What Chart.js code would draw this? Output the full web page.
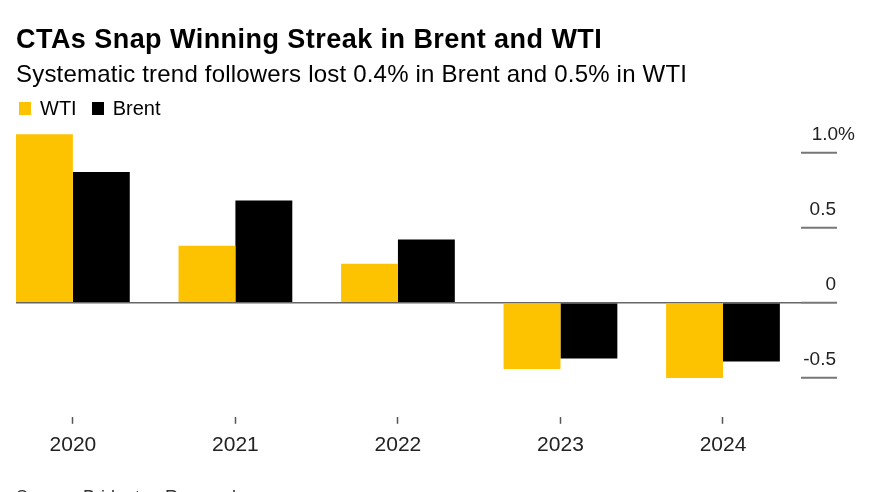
<!DOCTYPE html>
<html>
<head>
<meta charset="utf-8">
<script src="https://cdn.jsdelivr.net/npm/chart.js@4.4.1/dist/chart.umd.min.js"></script>
<style>
  body { margin: 0; background: #fff; }
  #wrap { position: relative; width: 870px; height: 492px; overflow: hidden; font-family: 'Liberation Sans', Arial, sans-serif; color: #000; }
  #plot { position: absolute; left: 0; top: 0; width: 870px; height: 492px; }
  .title { position: absolute; left: 16px; top: 23px; font-size: 27px; line-height: 32px; font-weight: bold; letter-spacing: 0.45px; white-space: nowrap; }
  .sub { position: absolute; left: 16px; top: 60px; font-size: 24px; line-height: 28px; letter-spacing: 0.2px; white-space: nowrap; }
  .legend { position: absolute; left: 19px; top: 97px; font-size: 20px; line-height: 22px; white-space: nowrap; }
  .legend span.sw { display: inline-block; width: 12px; height: 13px; margin-right: 9px; vertical-align: 0; }
  .legend span.item { margin-right: 15px; }
  .source { position: absolute; left: 16px; top: 487px; font-size: 18px; line-height: 20px; color: #333; white-space: nowrap; }
</style>
</head>
<body>
<div id="wrap">
  <div id="plot"><canvas id="chart1"></canvas></div>
  <div class="title">CTAs Snap Winning Streak in Brent and WTI</div>
  <div class="sub">Systematic trend followers lost 0.4% in Brent and 0.5% in WTI</div>
  <div class="legend"><span class="item"><span class="sw" style="background:#FEC300"></span>WTI</span><span class="item"><span class="sw" style="background:#000"></span>Brent</span></div>
  <div class="source">Source: Bridgeton Research</div>
</div>
<script>
// data (% return)
var years = ['2020', '2021', '2022', '2023', '2024'];
var wti = [1.12, 0.38, 0.26, -0.44, -0.50];
var brent = [0.87, 0.68, 0.42, -0.37, -0.39];
var yTicks = [-0.5, 0, 0.5, 1.0];
var yTickLabels = ['-0.5', '0', '0.5', '1.0%'];

var graph = document.getElementById('chart1');

var myChart = new Chart(graph, {
   type: 'bar',
   data: {
       datasets: [{
           label: 'WTI',
           data: wti.map(function (v, i) { return { x: i, y: v }; }),
           backgroundColor: '#FEC300'
       }, {
           label: 'Brent',
           data: brent.map(function (v, i) { return { x: i, y: v }; }),
           backgroundColor: '#000000'
       }]
   },
   options: {
       responsive: true,
       maintainAspectRatio: false,
       animation: false,
       datasets: { bar: { categoryPercentage: 0.7, barPercentage: 1.0, borderWidth: 0 } },
       layout: { padding: { top: 125, left: 16, right: 15, bottom: 25 } },
       plugins: {
           legend: { display: false },
           tooltip: { enabled: false }
       },
       scales: {
           x: {
               type: 'linear',
               bounds: 'data',
               offset: false,
               min: -0.35,
               max: 4.48,
               afterBuildTicks: function (axis) {
                   axis.ticks = years.map(function (y, i) { return { value: i }; });
               },
               ticks: {
                   autoSkip: false,
                   maxRotation: 0,
                   padding: 9,
                   color: '#222',
                   font: { family: "'Liberation Sans', Arial, sans-serif", size: 21 },
                   callback: function (v) { return years[v]; }
               },
               grid: { offset: false, drawOnChartArea: false, tickLength: 7, tickColor: '#555', tickWidth: 1.5 },
               border: { display: false }
           },
           y: {
               type: 'linear',
               position: 'right',
               bounds: 'data',
               min: -0.758,
               max: 1.182,
               afterBuildTicks: function (axis) {
                   axis.ticks = yTicks.map(function (v) { return { value: v }; });
               },
               afterFit: function (axis) { axis.width = 54; },
               ticks: {
                   padding: 0,
                   crossAlign: 'far',
                   labelOffset: -18,
                   color: '#222',
                   font: { family: "'Liberation Sans', Arial, sans-serif", size: 19 },
                   callback: function (v, i) {
                       var t = yTickLabels[i];
                       return t.indexOf('%') >= 0 ? t : t + '\u2002\u2002';
                   }
               },
               grid: {
                   color: function (ctx) { return ctx.tick && ctx.tick.value === 0 ? '#666' : 'rgba(0,0,0,0)'; },
                   lineWidth: 1.5,
                   tickLength: 36,
                   tickColor: '#777',
                   tickWidth: 2
               },
               border: { display: false }
           }
       }
   }
});
</script>
</body>
</html>
